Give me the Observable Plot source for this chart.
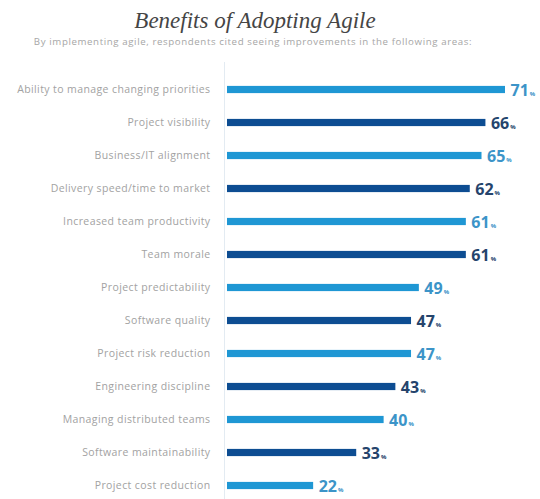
<!DOCTYPE html>
<html>
<head>
<meta charset="utf-8">
<script src="https://cdn.jsdelivr.net/npm/d3@7"></script>
<script src="https://cdn.jsdelivr.net/npm/@observablehq/plot@0.6"></script>
<style>
  html, body { margin: 0; padding: 0; background: #fff; overflow: hidden; }
  #wrap { position: relative; width: 540px; height: 499px; }
  #title { position: absolute; top: 8px; left: 0; width: 510px; text-align: center;
    font-family: "Liberation Serif", "DejaVu Serif", serif; font-style: italic;
    font-size: 23px; color: #454545; line-height: 26px; }
  #subtitle { position: absolute; top: 36px; left: 0; width: 506px; text-align: center;
    font-family: "Open Sans", sans-serif; font-size: 9.7px; letter-spacing: 0.6px;
    color: #a6a6a6; line-height: 12px; }
  #chart { position: absolute; top: 40px; left: 0; }
  #chart g[aria-label="y-axis tick label"] text { letter-spacing: 0.4px; }
</style>
</head>
<body>
<div id="wrap">
  <div id="title">Benefits of Adopting Agile</div>
  <div id="subtitle">By implementing agile, respondents cited seeing improvements in the following areas:</div>
  <div id="chart"></div>
</div>
<script>
const categories = [
  "Ability to manage changing priorities",
  "Project visibility",
  "Business/IT alignment",
  "Delivery speed/time to market",
  "Increased team productivity",
  "Team morale",
  "Project predictability",
  "Software quality",
  "Project risk reduction",
  "Engineering discipline",
  "Managing distributed teams",
  "Software maintainability",
  "Project cost reduction"
];
const values = [71, 66, 65, 62, 61, 61, 49, 47, 47, 43, 40, 33, 22];
const tones = ["light", "dark", "light", "dark", "light", "dark", "light", "dark", "light", "dark", "light", "dark", "light"];

const data = categories.map((c, i) => ({category: c, value: values[i], tone: tones[i]}));
const barColor = {light: "#1f97d4", dark: "#0d4d92"};
const textColor = {light: "#3c94c8", dark: "#25446c"};

const plot = Plot.plot({
  width: 540,
  height: 464,
  marginTop: 22,
  marginBottom: 0,
  marginLeft: 227,
  marginRight: 0,
  style: {fontFamily: "'Open Sans', sans-serif", fontSize: "10.5px", color: "#a2a2a2", background: "transparent"},
  x: {domain: [0, 71], range: [227, 505], axis: null},
  y: {domain: categories, range: [31.4, 464], padding: 0, tickSize: 0, tickPadding: 17, label: null},
  marks: [
    Plot.ruleX([0], {stroke: "#e3ebf2", dx: -3}),
    Plot.barX(data, {
      x: "value", y: "category",
      fill: d => barColor[d.tone],
      insetTop: 12.9, insetBottom: 12.9
    }),
    Plot.text(data, {
      x: "value", y: "category", text: d => String(d.value),
      textAnchor: "start", dx: 5, dy: 1,
      fontSize: 16, fontWeight: "bold",
      fill: d => textColor[d.tone]
    })
  ]
});

document.getElementById("chart").appendChild(plot);

// add small percent signs after the value labels
d3.select(plot).selectAll('g[aria-label="text"] text').each(function() {
  d3.select(this).append("tspan").attr("font-size", 6).attr("dx", 1).text("%");
});
</script>
</body>
</html>
